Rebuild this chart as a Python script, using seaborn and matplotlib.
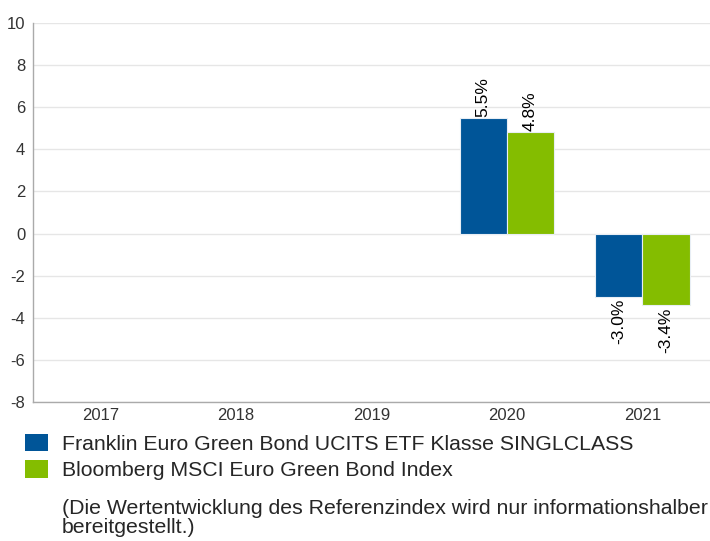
import pandas as pd
import numpy as np
import matplotlib.pyplot as plt
import seaborn as sns
from matplotlib.patches import Patch

years = ["2017", "2018", "2019", "2020", "2021"]
fund_name = "Franklin Euro Green Bond UCITS ETF Klasse SINGLCLASS"
index_name = "Bloomberg MSCI Euro Green Bond Index"
fund_values = [np.nan, np.nan, np.nan, 5.5, -3.0]
index_values = [np.nan, np.nan, np.nan, 4.8, -3.4]
note = "(Die Wertentwicklung des Referenzindex wird nur informationshalber\nbereitgestellt.)"

colors = ["#005598", "#84bd00"]

df = pd.DataFrame({
    "year": years * 2,
    "series": [fund_name] * len(years) + [index_name] * len(years),
    "value": fund_values + index_values,
})

sns.set_style("white")
plt.rcParams["font.family"] = ["Liberation Sans", "DejaVu Sans"]
plt.rcParams["axes.unicode_minus"] = False

fig = plt.figure(figsize=(7.1, 5.41), dpi=100)
ax = fig.add_axes([33 / 710, 1 - 402 / 541, 677 / 710, 379 / 541])

sns.barplot(
    data=df, x="year", y="value", hue="series",
    palette=colors, saturation=1, width=0.7, ax=ax, legend=False,
    edgecolor="#e8eef5", linewidth=0.8,
)

ax.set_ylim(-8, 10)
ax.set_yticks(range(-8, 11, 2))
ax.set_xlim(-0.5, 4.5)
ax.set_xlabel("")
ax.set_ylabel("")
ax.yaxis.grid(True, color="#e6e6e6", linewidth=1)
ax.set_axisbelow(True)
for s in ["top", "right"]:
    ax.spines[s].set_visible(False)
for s in ["left", "bottom"]:
    ax.spines[s].set_color("#aaaaaa")
    ax.spines[s].set_linewidth(1)
ax.tick_params(axis="both", length=0, labelsize=12, labelcolor="#333333")
ax.tick_params(axis="x", pad=4.5)
ax.tick_params(axis="y", pad=5.5)

# labels on bars
for p in ax.patches:
    h = p.get_height()
    if np.isnan(h) or h == 0:
        continue
    x = p.get_x() + p.get_width() / 2
    if h > 0:
        ax.text(x, h + 0.05, f"{h:.1f}%", rotation=90, ha="center", va="bottom",
                fontsize=12.5, color="#000000")
    else:
        ax.text(x, h - 0.1, f"{h:.1f}%", rotation=90, ha="center", va="top",
                fontsize=12.5, color="#000000")

handles = [Patch(facecolor=c, edgecolor="none") for c in colors]
fig.legend(handles, [fund_name, index_name], loc="upper left",
           bbox_to_anchor=(25 / 710, 1 - 434 / 541), frameon=False,
           fontsize=15.3, handlelength=1.1, handleheight=0.87,
           handletextpad=0.62, labelspacing=0.3, borderaxespad=0, borderpad=0)

fig.text(62 / 710, 1 - 499 / 541, note, fontsize=15.3, va="top", ha="left",
         linespacing=0.97)

fig.savefig("out.png", dpi=100)
